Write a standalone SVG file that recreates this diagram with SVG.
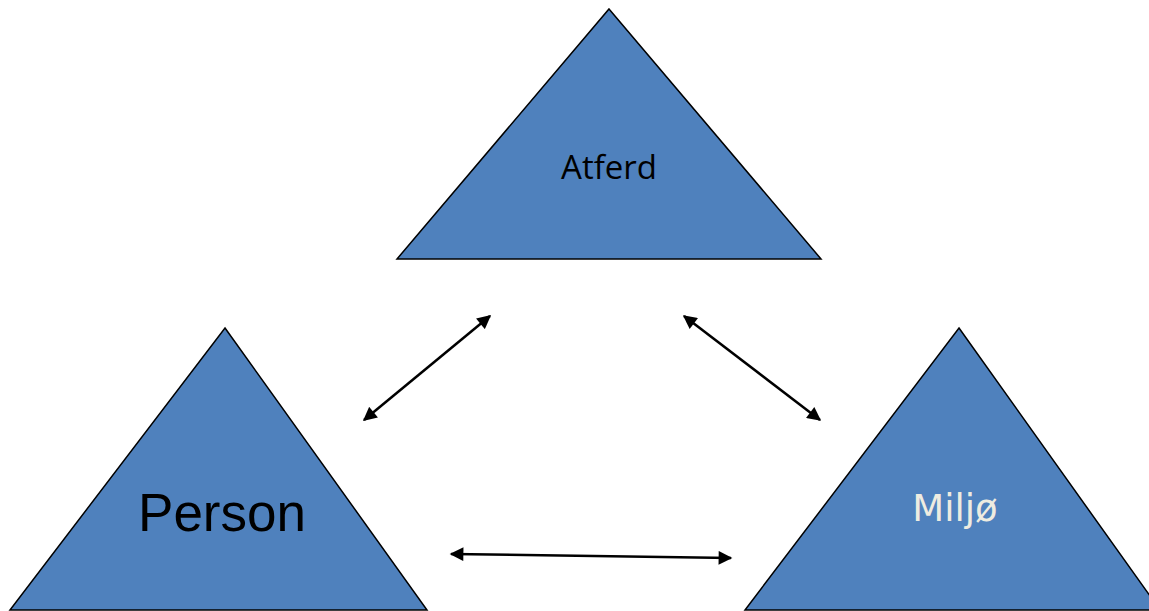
<svg xmlns="http://www.w3.org/2000/svg" width="1149" height="611" viewBox="0 0 1149 611">
<style>
.tri{fill:#4f81bd;stroke:#000;stroke-width:1.5;stroke-linejoin:miter}
.c{stroke:#000;stroke-width:2.5;fill:none;marker-start:url(#ah);marker-end:url(#ah)}
</style>
<defs>
<marker id="ah" viewBox="0 0 10 10" refX="9" refY="5" markerWidth="6" markerHeight="5.5" orient="auto-start-reverse" markerUnits="strokeWidth">
<path d="M0,0 L10,5 L0,10 z" fill="#000"/>
</marker>
</defs>
<rect width="1149" height="611" fill="#fff"/>
<g id="atferd">
<polygon class="tri" points="609,9 821,259 397,259"/>
<text x="609" y="179" text-anchor="middle" font-family="Open Sans, sans-serif" font-size="33" fill="#000">Atferd</text>
</g>
<g id="person">
<polygon class="tri" points="225,328 427,610 10,610"/>
<text x="222" y="531" text-anchor="middle" font-family="Liberation Sans, Arial, sans-serif" font-size="53" fill="#000">Person</text>
</g>
<g id="miljo">
<polygon class="tri" points="959,328 1160,610 745,610"/>
<text x="955" y="521" text-anchor="middle" font-family="DejaVu Sans, Verdana, sans-serif" font-size="37" fill="#eeece1">Miljø</text>
</g>
<g id="connectors">
<line class="c" x1="364" y1="420" x2="490" y2="316"/>
<line class="c" x1="684" y1="316" x2="820" y2="420"/>
<line class="c" x1="451" y1="554" x2="731" y2="558"/>
</g>
</svg>
